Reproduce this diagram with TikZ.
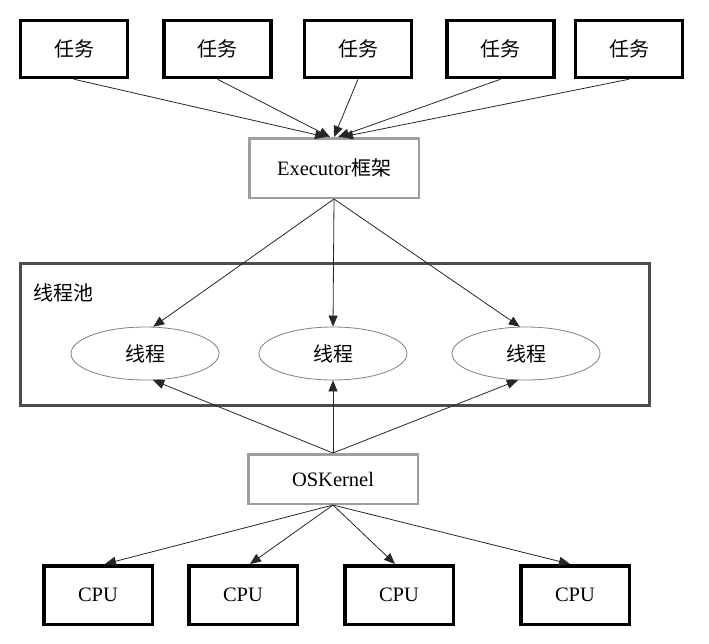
\documentclass[tikz,border=0pt]{standalone}
\usepackage{fontspec}
\setmainfont{Liberation Serif}
\newfontfamily\cjk{Noto Sans CJK SC}
\usetikzlibrary{arrows.meta,calc,shapes.geometric}
\newcommand{\zh}[1]{{\cjk\fontsize{20}{24}\selectfont #1}}
\begin{document}
\begin{tikzpicture}[x=1pt,y=-1pt,
  every node/.style={font=\fontsize{20.5}{24}\selectfont, inner sep=0pt},
  taskbox/.style={draw=black, line width=3.5pt, minimum width=107pt, minimum height=57pt},
  cpubox/.style={draw=black, line width=3.5pt, minimum width=108.5pt, minimum height=58.5pt},
  graybox/.style={draw=black!38, line width=2.5pt, minimum width=169.5pt},
  thread/.style={draw=black!50, line width=0.8pt, ellipse, minimum width=148pt, minimum height=53pt},
  conn/.style={draw=black!85, line width=0.8pt, -{Triangle[length=11pt,width=9pt]}}
]
\useasboundingbox (0,0) rectangle (709,643);
% tasks
\node[taskbox] (t1) at (74,49) {\zh{任务}};
\node[taskbox] (t2) at (217.5,49) {\zh{任务}};
\node[taskbox] (t3) at (358,49) {\zh{任务}};
\node[taskbox] (t4) at (500.5,49) {\zh{任务}};
\node[taskbox] (t5) at (629,49) {\zh{任务}};
% executor
\node[graybox, minimum height=59.5pt] (exec) at (334,168) {Executor\zh{框架}};
% pool
\node[draw=black!70, line width=3pt, minimum width=629pt, minimum height=142pt] (pool) at (335,334.5) {};
\node (poollabel) at (63,293) {\zh{线程池}};
\node[thread] (e1) at (145,353.5) {\zh{线程}};
\node[thread] (e2) at (333,353.5) {\zh{线程}};
\node[thread] (e3) at (526,353.5) {\zh{线程}};
% OS kernel
\node[graybox, minimum height=49.5pt] (os) at (333,479) {OSKernel};
% CPUs
\node[cpubox] (c1) at (98,595) {CPU};
\node[cpubox] (c2) at (243,595) {CPU};
\node[cpubox] (c3) at (399,595) {CPU};
\node[cpubox] (c4) at (575,595) {CPU};
% connectors
\draw[conn] (t1.south) -- ($(exec.north)+(-8,0)$);
\draw[conn] (t2.south) -- ($(exec.north)+(-4,0)$);
\draw[conn] (t3.south) -- ($(exec.north)+(0,0)$);
\draw[conn] (t4.south) -- ($(exec.north)+(4,0)$);
\draw[conn] (t5.south) -- ($(exec.north)+(8,0)$);
\draw[conn] (exec.south) -- (e1.73);
\draw[conn] (exec.south) -- (e2.north);
\draw[conn] (exec.south) -- (e3.103);
\draw[conn] (os.north) -- (e1.-73);
\draw[conn] (os.north) -- (e2.south);
\draw[conn] (os.north) -- (e3.-107);
\draw[conn] (os.south) -- ($(c1.north)+(7,0)$);
\draw[conn] (os.south) -- ($(c2.north)+(7,0)$);
\draw[conn] (os.south) -- ($(c3.north)+(-4,0)$);
\draw[conn] (os.south) -- ($(c4.north)+(-5,0)$);
\end{tikzpicture}
\end{document}
